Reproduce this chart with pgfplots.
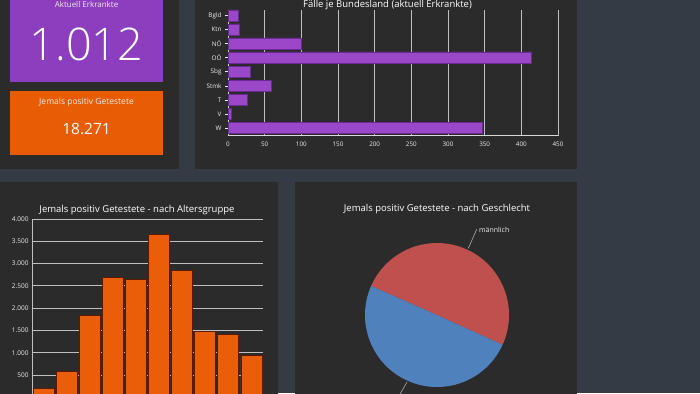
\documentclass[border=0pt]{standalone}
\usepackage{pgfplots}
\pgfplotsset{compat=1.18}
\usepackage{fontspec}
\setmainfont{Open Sans}
\IfFontExistsTF{Open Sans Light}{\newfontfamily\lightfont{Open Sans Light}}{\newfontfamily\lightfont{Open Sans}}
\definecolor{bg}{HTML}{353B44}
\definecolor{panel}{HTML}{2B2B2B}
\definecolor{tilepurple}{HTML}{8C3EBE}
\definecolor{tileorange}{HTML}{E85D04}
\definecolor{barpurple}{HTML}{9B47C9}
\definecolor{barpurpleedge}{HTML}{6B2A93}
\definecolor{barorange}{HTML}{EA5E0A}
\definecolor{barorangeedge}{HTML}{5C1A00}
\definecolor{pired}{HTML}{C0504D}
\definecolor{piblue}{HTML}{4F81BD}
\definecolor{gridc}{HTML}{BFBFBF}
\definecolor{txt}{HTML}{EDEDED}
\begin{document}
\begin{tikzpicture}
\clip (0pt,0pt) rectangle (700pt,393pt);
\fill[bg] (0pt,0pt) rectangle (700pt,393pt);
% panels
\fill[panel] (-5pt,224pt) rectangle (179pt,398pt);
\fill[panel] (195pt,224pt) rectangle (577pt,398pt);
\fill[panel] (-5pt,-5pt) rectangle (278pt,211pt);
\fill[panel] (295pt,-5pt) rectangle (577pt,211pt);
% tiles
\fill[tilepurple] (10pt,311pt) rectangle (163pt,398pt);
\fill[tileorange] (10pt,238pt) rectangle (163pt,302pt);
\node[anchor=base, text=txt, font=\fontsize{8}{10}\selectfont, inner sep=0] at (86.5pt,385.5pt) {Aktuell Erkrankte};
\node[anchor=base, text=white, font=\lightfont\fontsize{45}{48}\selectfont, inner sep=0] at (86.5pt,332pt) {1.012};
\node[anchor=base, text=txt, font=\fontsize{8.5}{10}\selectfont, inner sep=0] at (86.5pt,288.5pt) {Jemals positiv Getestete};
\node[anchor=base, text=white, font=\fontsize{15.5}{17}\selectfont, inner sep=0] at (86.5pt,258pt) {18.271};

% bar chart per state
\node[anchor=base, text=white, font=\fontsize{9.5}{12}\selectfont, inner sep=0] at (387.5pt,385pt) {Fälle je Bundesland (aktuell Erkrankte)};
\begin{axis}[at={(228pt,257.3pt)}, anchor=south west, scale only axis,
  width=330pt, height=125.7pt,
  xmin=0, xmax=450, ymin=0.45, ymax=9.4,
  xbar, bar width=11.5pt,
  ytick={1,...,9}, yticklabels={W,V,T,Stmk,Sbg,OÖ,NÖ,Ktn,Bgld},
  xtick={0,50,...,450},
  xmajorgrids, grid style={gridc, line width=0.8pt},
  axis x line*=bottom, axis y line*=left,
  axis line style={white!85!black, line width=0.8pt},
  xtick style={draw=none},
  ytick style={txt, line width=0.6pt},
  tick align=outside, major tick length=3pt,
  ticklabel style={font=\fontsize{6.3}{7}\selectfont, text=txt},
  /pgf/number format/assume math mode=true,
]
\addplot[fill=barpurple, draw=barpurpleedge, line width=0.6pt] coordinates {(14,9) (16,8) (100,7) (414,6) (31,5) (59,4) (26,3) (5,2) (347,1)};
\end{axis}

% age groups
\node[anchor=base, text=white, font=\fontsize{9.5}{11}\selectfont, inner sep=0] at (137pt,180.5pt) {Jemals positiv Getestete - nach Altersgruppe};
\begin{axis}[at={(32pt,-4.3pt)}, anchor=south west, scale only axis,
  width=231pt, height=178.3pt,
  xmin=0.5, xmax=10.5, ymin=0, ymax=4000,
  ybar, bar width=21pt,
  ytick={500,1000,...,4000}, xtick=\empty,
  ymajorgrids, grid style={gridc, line width=0.8pt},
  axis x line*=bottom, axis y line*=left,
  axis line style={white!75!black, line width=0.8pt},
  ytick style={draw=none},
  ticklabel style={font=\fontsize{6.5}{8}\selectfont, text=txt},
  yticklabel style={/pgf/number format/.cd, 1000 sep={.}, assume math mode=true},
]
\addplot[fill=barorange, draw=barorangeedge, line width=0.8pt] coordinates {(1,190) (2,590) (3,1840) (4,2690) (5,2650) (6,3650) (7,2850) (8,1480) (9,1410) (10,930)};
\end{axis}

% pie by gender (männlich 9166, weiblich 9105)
\node[anchor=base, text=white, font=\fontsize{9.5}{11}\selectfont, inner sep=0] at (437pt,181.5pt) {Jemals positiv Getestete - nach Geschlecht};
\def\male{9.166}
\def\female{9.105}
\pgfmathsetmacro{\startang}{-24.4}
\pgfmathsetmacro{\midang}{\startang+360*(\male/(\male+\female))}
\pgfmathsetmacro{\endang}{\startang+360}
\begin{axis}[at={(437pt,78pt)}, anchor=center, scale only axis,
  width=144pt, height=144pt, xmin=-1, xmax=1, ymin=-1, ymax=1, hide axis]
\fill[pired] (axis cs:0,0) -- (axis cs:{cos(\startang)},{sin(\startang)}) arc[start angle=\startang, end angle=\midang, radius=72pt] -- cycle;
\fill[piblue] (axis cs:0,0) -- (axis cs:{cos(\midang)},{sin(\midang)}) arc[start angle=\midang, end angle=\endang, radius=72pt] -- cycle;
\end{axis}
\draw[gridc, line width=0.5pt] (468.3pt,144.7pt) -- (476.7pt,163.7pt);
\node[anchor=west, text=txt, font=\fontsize{7}{8}\selectfont, inner sep=1pt] at (478pt,163.5pt) {männlich};
\draw[gridc, line width=0.5pt] (407pt,11pt) -- (399pt,-3pt);
\end{tikzpicture}
\end{document}
